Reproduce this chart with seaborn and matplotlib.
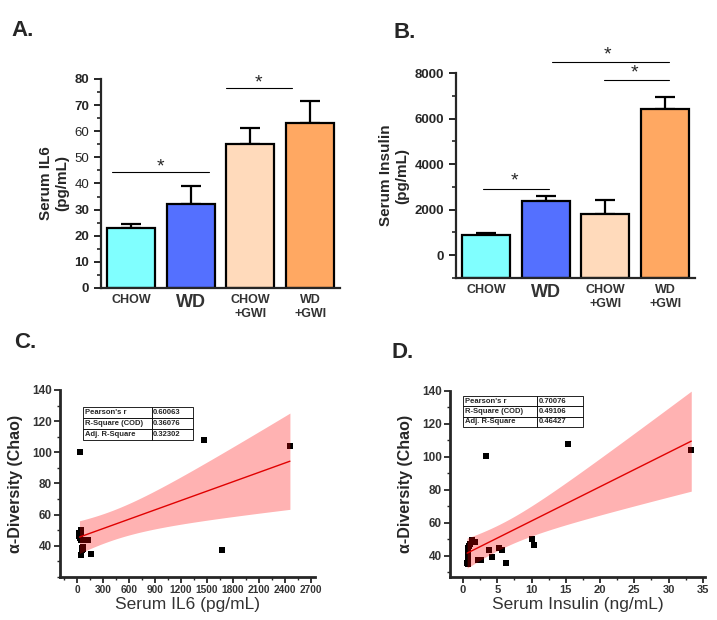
import numpy as np
import pandas as pd
import seaborn as sns
import matplotlib.pyplot as plt
from matplotlib.ticker import MultipleLocator

sns.set_style("ticks")
plt.rcParams["font.family"] = ["Liberation Sans", "DejaVu Sans"]

# bar chart data
groups = ["CHOW", "WD", "CHOW\n+GWI", "WD\n+GWI"]
bar_colors = ["#80FFFF", "#5470FF", "#FFDABB", "#FFA862"]
il6_mean = [23.0, 32.0, 55.3, 63.3]
il6_sem = [1.5, 7.2, 6.0, 8.2]
ins_mean = [890, 2380, 1825, 6420]
ins_sem = [70, 230, 600, 540]
ins_base = -1000

# correlation data
il6_x = [40, 155, 60, 45, 30, 25, 35, 45, 55, 65, 35, 100, 120, 70,
         1680, 40, 1470, 2460, 25]
chao_c = [34, 35, 38.5, 44, 45, 46, 47, 49, 37.5, 39.5, 100, 43.8, 43.5,
          38, 37, 50, 108, 104, 48]
ins_x = [0.6, 0.7, 0.75, 0.8, 0.8, 0.9, 1.0, 1.3, 1.7, 2.2, 2.6, 3.4, 3.8,
         4.3, 5.3, 5.7, 6.3, 10.0, 10.3, 15.3, 33.3]
chao_d = [35.5, 35, 38.5, 41.5, 44.5, 46, 47, 49.5, 48.5, 37.5, 37.5,
          100.5, 43.5, 39, 44.5, 43.5, 35.5, 50, 46.5, 108, 104]
stats_c = [["Pearson's r", "0.60063"], ["R-Square (COD)", "0.36076"],
           ["Adj. R-Square", "0.32302"]]
stats_d = [["Pearson's r", "0.70076"], ["R-Square (COD)", "0.49106"],
           ["Adj. R-Square", "0.46427"]]
t95 = {17: 2.110, 19: 2.093}

fig = plt.figure(figsize=(7.17, 6.2), dpi=100)
axA = fig.add_axes([0.1409, 0.5355, 0.3333, 0.3371])
axB = fig.add_axes([0.636, 0.5516, 0.3333, 0.3306])
axC = fig.add_axes([0.0837, 0.0694, 0.3556, 0.3016])
axD = fig.add_axes([0.6276, 0.0694, 0.3556, 0.30])


def bar_panel(ax, means, sems, base, ylabel):
    df = pd.DataFrame({"group": groups, "h": np.array(means) - base})
    sns.barplot(data=df, x="group", y="h", hue="group", palette=bar_colors,
                saturation=1, edgecolor="black", linewidth=1.6, width=0.8,
                errorbar=None, legend=False, bottom=base, ax=ax)
    ax.errorbar(range(4), means, yerr=[np.zeros(4), sems], fmt="none",
                ecolor="black", elinewidth=1.6, capsize=7, capthick=1.6,
                zorder=0)
    ax.set_xlim(-0.5, 3.5)
    ax.set_xlabel("")
    ax.set_ylabel(ylabel, fontsize=11, fontweight="bold", linespacing=1.2)
    sns.despine(ax=ax)
    for s in ["left", "bottom"]:
        ax.spines[s].set_linewidth(1.6)
    ax.tick_params(axis="x", length=0, pad=4)
    ax.tick_params(axis="y", which="major", length=5, width=1.4,
                   labelsize=9.5)
    ax.tick_params(axis="y", which="minor", length=3, width=1.2)
    for lab in ax.get_yticklabels():
        lab.set_fontweight("bold")
    for i, lab in enumerate(ax.get_xticklabels()):
        lab.set_fontweight("bold")
        lab.set_color("#333333")
        lab.set_fontsize(13 if i == 1 else 9)
        lab.set_linespacing(1.3)


def sig(ax, x1, x2, y, ys, xs):
    ax.plot([x1, x2], [y, y], color="black", lw=0.8, clip_on=False)
    ax.text(xs, ys, "*", ha="center", va="center", fontsize=14,
            clip_on=False)


# Panel A
bar_panel(axA, il6_mean, il6_sem, 0, "Serum IL6\n(pg/mL)")
axA.set_ylim(0, 80)
axA.yaxis.set_major_locator(MultipleLocator(10))
axA.yaxis.set_minor_locator(MultipleLocator(5))
sig(axA, -0.32, 1.3, 44.4, 46.5, 0.5)
sig(axA, 1.6, 2.7, 76.5, 78.5, 2.13)

# Panel B
bar_panel(axB, ins_mean, ins_sem, ins_base, "Serum Insulin\n(pg/mL)")
axB.set_ylim(ins_base, 8000)
axB.set_yticks([0, 2000, 4000, 6000, 8000])
axB.yaxis.set_minor_locator(MultipleLocator(1000))
sig(axB, -0.05, 1.05, 2920, 3250, 0.48)
sig(axB, 1.1, 3.07, 8470, 8780, 2.03)
sig(axB, 1.97, 3.07, 7690, 8000, 2.48)


def corr_panel(ax, x, y, stats, xlabel, bbox, col0):
    x = np.asarray(x, float)
    y = np.asarray(y, float)
    sns.scatterplot(x=x, y=y, marker="s", color="black", s=22, linewidth=0,
                    ax=ax, zorder=2)
    n = len(x)
    b, a = np.polyfit(x, y, 1)
    xs = np.linspace(x.min(), x.max(), 200)
    fit = a + b * xs
    resid = y - (a + b * x)
    s = np.sqrt(np.sum(resid ** 2) / (n - 2))
    se = s * np.sqrt(1 / n + (xs - x.mean()) ** 2 / np.sum((x - x.mean()) ** 2))
    half = t95[n - 2] * se
    ax.fill_between(xs, fit - half, fit + half, color="#FF0000", alpha=0.3,
                    linewidth=0, zorder=3)
    sns.lineplot(x=xs, y=fit, color="#E00000", lw=1.0, ax=ax, zorder=4)
    sns.despine(ax=ax)
    for sp in ["left", "bottom"]:
        ax.spines[sp].set_linewidth(2.0)
    ax.set_ylim(20, 140)
    ax.set_yticks([40, 60, 80, 100, 120, 140])
    ax.yaxis.set_minor_locator(MultipleLocator(10))
    ax.tick_params(which="major", length=4, width=1.3, labelsize=8.5,
                   labelcolor="#333333", pad=2)
    ax.tick_params(which="minor", length=2.5, width=1.0)
    ax.set_ylabel("\u03b1-Diversity (Chao)", fontsize=11.5, fontweight="bold",
                  labelpad=6)
    ax.set_xlabel(xlabel, fontsize=12.5, color="#333333", labelpad=1)
    tb = ax.table(cellText=stats, bbox=bbox, colWidths=[col0, 1 - col0],
                  cellLoc="left", zorder=6)
    tb.auto_set_font_size(False)
    tb.set_fontsize(5.5)
    for cell in tb.get_celld().values():
        cell.set_linewidth(0.6)
        cell.get_text().set_fontweight("bold")
        cell.PAD = 0.03


# Panel C
corr_panel(axC, il6_x, chao_c, stats_c, "Serum IL6 (pg/mL)",
           [0.090, 0.733, 0.431, 0.176], 0.627)
axC.set_xlim(-200, 2750)
axC.set_xticks(np.arange(0, 2701, 300))
axC.xaxis.set_minor_locator(MultipleLocator(150))
axC.tick_params(axis="x", labelsize=7.3)

# Panel D
corr_panel(axD, ins_x, chao_d, stats_d, "Serum Insulin (ng/mL)",
           [0.051, 0.806, 0.471, 0.167], 0.617)
axD.set_xlim(-1.9, 35.3)
axD.set_ylim(27, 140)
axD.set_xticks(np.arange(0, 36, 5))
axD.xaxis.set_minor_locator(MultipleLocator(2.5))
axD.tick_params(axis="x", labelsize=8)

for ax in (axC, axD):
    for lab in ax.get_xticklabels() + ax.get_yticklabels():
        lab.set_fontweight("bold")

# panel letters
for txt, xp, yp in [("A.", 23, 30), ("B.", 405, 33), ("C.", 25, 343),
                    ("D.", 403, 352)]:
    fig.text(xp / 717, 1 - yp / 620, txt, fontsize=16, fontweight="bold",
             ha="center", va="center")

fig.savefig("out.png", dpi=100)
